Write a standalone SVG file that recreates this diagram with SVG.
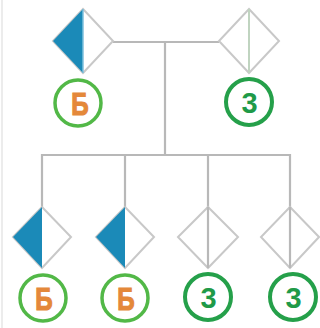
<svg xmlns="http://www.w3.org/2000/svg" width="320" height="328" viewBox="0 0 320 328">
<style>
.ln{stroke:#b8b8b8;stroke-width:2.2;fill:none}
.dm{fill:#fff;stroke:#c8c8c8;stroke-width:2}
.bl{fill:#1b8ab8}
.mid{stroke:#c0d4c0;stroke-width:2}
.cb{fill:#fff;stroke:#52b847;stroke-width:3.5}
.cz{fill:#fff;stroke:#25a04a;stroke-width:4}
.tb{font-family:"Liberation Sans",Arial,sans-serif;font-weight:bold;font-size:31px;fill:#e4883a;stroke:#e4883a;stroke-width:1.2;text-anchor:middle}
.tz{font-family:"Liberation Sans",Arial,sans-serif;font-weight:bold;font-size:29px;fill:#1f9a48;text-anchor:middle}
</style>
<rect width="320" height="328" fill="#fff"/>
<line x1="2" y1="0" x2="2" y2="328" stroke="#ececec" stroke-width="2"/>
<g id="connectors">
<line class="ln" x1="113" y1="42" x2="219" y2="42"/>
<line class="ln" x1="165" y1="42" x2="165" y2="155"/>
<polyline class="ln" points="42,207 42,155 290,155 290,207"/>
<line class="ln" x1="125" y1="155" x2="125" y2="207"/>
<line class="ln" x1="208" y1="155" x2="208" y2="207"/>
</g>
<g id="father">
<polygon class="dm" points="83,9 113,41 83,73 53,41"/>
<polygon class="bl" points="83,9 83,73 53,41"/>
<line x1="83" y1="9" x2="83" y2="73" stroke="#7fc0dc" stroke-width="1.5"/>
<circle class="cb" cx="78" cy="103" r="23"/>
<text class="tb" transform="translate(80,115) scale(0.78,1)">Б</text>
</g>
<g id="mother">
<polygon class="dm" points="249,9 279,41 249,73 219,41"/>
<line class="mid" x1="249" y1="9" x2="249" y2="73"/>
<circle class="cz" cx="249" cy="102" r="23"/>
<text class="tz" x="249.5" y="112.5">3</text>
</g>
<g id="child1">
<polygon class="dm" points="42,207 71,237 42,268 13,237"/>
<polygon class="bl" points="42,207 42,268 13,237"/>
<circle class="cb" cx="43" cy="298" r="23"/>
<text class="tb" transform="translate(44,310) scale(0.78,1)">Б</text>
</g>
<g id="child2">
<polygon class="dm" points="125,207 154,237 125,268 96,237"/>
<polygon class="bl" points="125,207 125,268 96,237"/>
<circle class="cb" cx="125" cy="298" r="23"/>
<text class="tb" transform="translate(126,310) scale(0.78,1)">Б</text>
</g>
<g id="child3">
<polygon class="dm" points="208,207 238,237 208,268 178,237"/>
<line class="ln" x1="208" y1="207" x2="208" y2="268"/>
<circle class="cz" cx="208" cy="297" r="23"/>
<text class="tz" x="208.5" y="307.5">3</text>
</g>
<g id="child4">
<polygon class="dm" points="290,207 319,237 290,268 261,237"/>
<line class="ln" x1="290" y1="207" x2="290" y2="268"/>
<circle class="cz" cx="293" cy="297" r="23"/>
<text class="tz" x="293.5" y="307.5">3</text>
</g>
</svg>
